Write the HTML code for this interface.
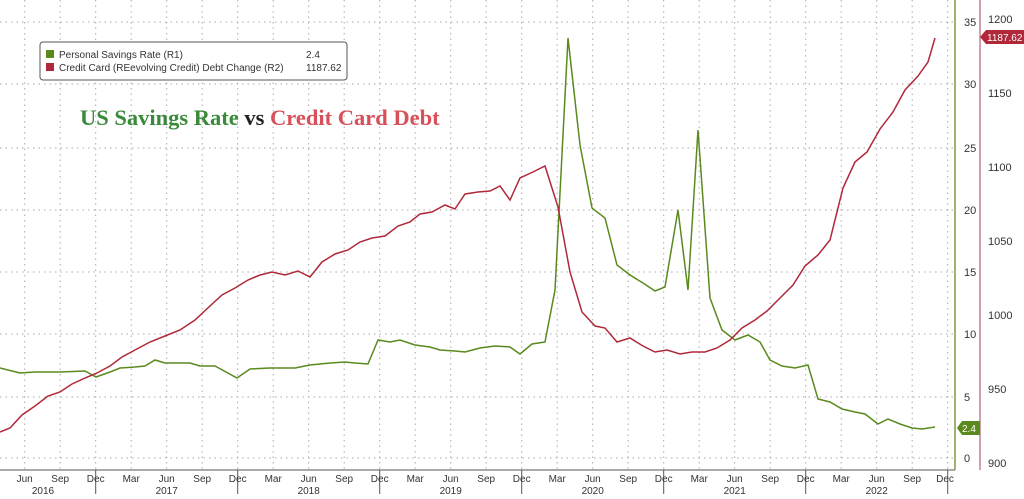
<!DOCTYPE html>
<html><head><meta charset="utf-8"><style>
body{margin:0;background:#fff;width:1024px;height:494px;overflow:hidden}
svg{font-family:"Liberation Sans",sans-serif}
</style></head><body>
<svg width="1024" height="494" viewBox="0 0 1024 494">
<g stroke="#aaa" stroke-width="1" stroke-dasharray="1.5,4">
<line x1="0" y1="22" x2="955" y2="22"/><line x1="0" y1="84" x2="955" y2="84"/><line x1="0" y1="148" x2="955" y2="148"/><line x1="0" y1="210" x2="955" y2="210"/><line x1="0" y1="272" x2="955" y2="272"/><line x1="0" y1="334" x2="955" y2="334"/><line x1="0" y1="397" x2="955" y2="397"/><line x1="0" y1="458" x2="955" y2="458"/>
<line x1="24.7" y1="0" x2="24.7" y2="470"/><line x1="60.2" y1="0" x2="60.2" y2="470"/><line x1="95.7" y1="0" x2="95.7" y2="470"/><line x1="131.2" y1="0" x2="131.2" y2="470"/><line x1="166.7" y1="0" x2="166.7" y2="470"/><line x1="202.2" y1="0" x2="202.2" y2="470"/><line x1="237.7" y1="0" x2="237.7" y2="470"/><line x1="273.2" y1="0" x2="273.2" y2="470"/><line x1="308.7" y1="0" x2="308.7" y2="470"/><line x1="344.2" y1="0" x2="344.2" y2="470"/><line x1="379.7" y1="0" x2="379.7" y2="470"/><line x1="415.2" y1="0" x2="415.2" y2="470"/><line x1="450.7" y1="0" x2="450.7" y2="470"/><line x1="486.2" y1="0" x2="486.2" y2="470"/><line x1="521.7" y1="0" x2="521.7" y2="470"/><line x1="557.2" y1="0" x2="557.2" y2="470"/><line x1="592.7" y1="0" x2="592.7" y2="470"/><line x1="628.2" y1="0" x2="628.2" y2="470"/><line x1="663.7" y1="0" x2="663.7" y2="470"/><line x1="699.2" y1="0" x2="699.2" y2="470"/><line x1="734.7" y1="0" x2="734.7" y2="470"/><line x1="770.2" y1="0" x2="770.2" y2="470"/><line x1="805.7" y1="0" x2="805.7" y2="470"/><line x1="841.2" y1="0" x2="841.2" y2="470"/><line x1="876.7" y1="0" x2="876.7" y2="470"/><line x1="912.2" y1="0" x2="912.2" y2="470"/><line x1="947.7" y1="0" x2="947.7" y2="470"/>
</g>
<line x1="0" y1="470" x2="955" y2="470" stroke="#555"/>
<line x1="955" y1="0" x2="955" y2="470" stroke="#7a9a40" stroke-width="1.5"/>
<line x1="980" y1="0" x2="980" y2="470" stroke="#c08090" stroke-width="1.5"/>
<g stroke="#555"><line x1="95.7" y1="470" x2="95.7" y2="494"/><line x1="237.7" y1="470" x2="237.7" y2="494"/><line x1="379.7" y1="470" x2="379.7" y2="494"/><line x1="521.7" y1="470" x2="521.7" y2="494"/><line x1="663.7" y1="470" x2="663.7" y2="494"/><line x1="805.7" y1="470" x2="805.7" y2="494"/><line x1="947.7" y1="470" x2="947.7" y2="494"/></g>
<g font-size="10" fill="#333" text-anchor="middle">
<text x="24.7" y="482">Jun</text><text x="60.2" y="482">Sep</text><text x="95.7" y="482">Dec</text><text x="131.2" y="482">Mar</text><text x="166.7" y="482">Jun</text><text x="202.2" y="482">Sep</text><text x="237.7" y="482">Dec</text><text x="273.2" y="482">Mar</text><text x="308.7" y="482">Jun</text><text x="344.2" y="482">Sep</text><text x="379.7" y="482">Dec</text><text x="415.2" y="482">Mar</text><text x="450.7" y="482">Jun</text><text x="486.2" y="482">Sep</text><text x="521.7" y="482">Dec</text><text x="557.2" y="482">Mar</text><text x="592.7" y="482">Jun</text><text x="628.2" y="482">Sep</text><text x="663.7" y="482">Dec</text><text x="699.2" y="482">Mar</text><text x="734.7" y="482">Jun</text><text x="770.2" y="482">Sep</text><text x="805.7" y="482">Dec</text><text x="841.2" y="482">Mar</text><text x="876.7" y="482">Jun</text><text x="912.2" y="482">Sep</text><text x="945" y="482">Dec</text>
<text x="43" y="494">2016</text><text x="166.7" y="494">2017</text><text x="308.7" y="494">2018</text><text x="450.7" y="494">2019</text><text x="592.7" y="494">2020</text><text x="734.7" y="494">2021</text><text x="876.7" y="494">2022</text>
</g>
<g font-size="11" fill="#333">
<text x="964" y="26">35</text><text x="964" y="88">30</text><text x="964" y="152">25</text><text x="964" y="214">20</text><text x="964" y="276">15</text><text x="964" y="338">10</text><text x="964" y="401">5</text><text x="964" y="462">0</text>
<text x="988" y="23">1200</text><text x="988" y="97">1150</text><text x="988" y="171">1100</text><text x="988" y="245">1050</text><text x="988" y="319">1000</text><text x="988" y="393">950</text><text x="988" y="467">900</text>
</g>
<polyline fill="none" stroke="#5a8a1e" stroke-width="1.5" points="0,368 20,373 35,372 60,372 85,371 96,377 110,372 120,368 135,367 145,366 155,360 165,363 190,363 200,366 215,366 237,378 250,369 270,368 295,368 310,365 330,363 345,362 355,363 368,364 378,340 390,342 400,340 415,345 430,347 440,350 455,351 465,352 480,348 495,346 510,347 520,354 532,344 545,342 555,290 568,38 580,145 592,208 605,218 617,265 630,275 643,283 655,291 665,287 678,210 688,290 698,130 710,298 722,330 735,340 748,335 760,342 770,360 782,366 795,368 808,365 818,399 830,402 842,409 855,412 865,414 878,424 888,419 900,424 912,428 922,429 935,427"/>
<polyline fill="none" stroke="#b0283a" stroke-width="1.5" points="0,432 10,428 22,415 35,406 48,396 60,392 72,384 85,378 97,373 110,366 122,357 135,350 150,342 165,336 180,330 195,320 210,306 222,295 235,288 248,280 260,275 272,272 285,275 298,271 310,277 322,262 335,254 348,250 360,242 372,238 385,236 398,226 410,222 420,214 432,212 445,205 455,209 465,194 478,192 490,191 500,186 510,200 520,178 533,172 545,166 558,207 570,272 582,312 595,326 605,328 617,342 630,338 643,346 655,352 667,350 680,354 692,352 705,352 717,348 730,340 742,328 755,320 767,311 780,298 793,285 805,266 818,255 830,240 843,188 855,162 867,152 880,129 893,112 905,90 918,76 928,62 935,38"/>
<polygon points="957,428 962,421 980,421 980,435 962,435" fill="#5a8a1e"/>
<text x="962" y="432" font-size="10" fill="#fff">2.4</text>
<polygon points="980,37 986,30 1024,30 1024,44 986,44" fill="#b0283a"/>
<text x="987" y="41" font-size="10" fill="#fff">1187.62</text>
<rect x="40" y="42" width="307" height="38" rx="3" fill="#fff" stroke="#555"/>
<rect x="46" y="50" width="8" height="8" fill="#5a8a1e"/><rect x="46" y="63" width="8" height="8" fill="#b0283a"/>
<g font-size="10" fill="#333"><text x="59" y="58">Personal Savings Rate (R1)</text><text x="306" y="58">2.4</text>
<text x="59" y="71">Credit Card (REevolving Credit) Debt Change (R2)</text><text x="306" y="71">1187.62</text></g>
<text x="80" y="125" font-family="Liberation Serif,serif" font-weight="bold" font-size="22.5"><tspan fill="#3a8a3a">US Savings Rate</tspan><tspan fill="#222"> vs </tspan><tspan fill="#d8505a">Credit Card Debt</tspan></text>
</svg>
</body></html>
